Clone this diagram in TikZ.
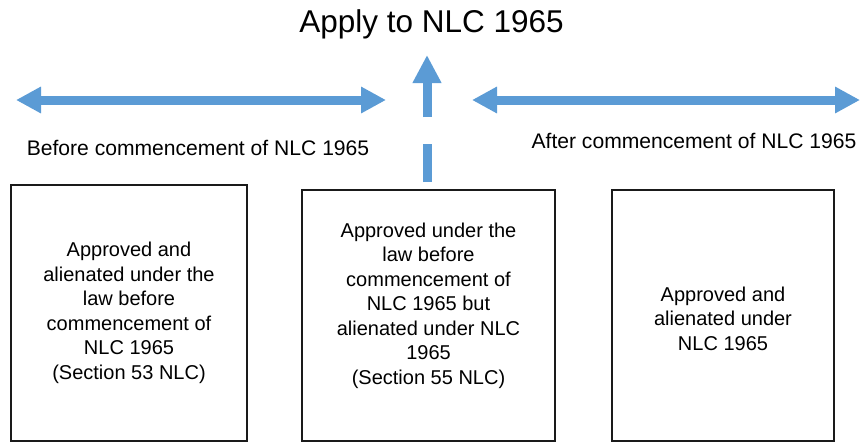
\documentclass[tikz,border=0pt]{standalone}
\usepackage{fontspec}
\setmainfont{Liberation Sans}
\usepackage{xcolor}
\definecolor{arrowblue}{HTML}{5B9BD5}
\definecolor{boxline}{HTML}{1A1A1A}
\usetikzlibrary{arrows.meta,positioning}

\begin{document}
\begin{tikzpicture}[x=1pt,y=-1pt,
    landbox/.style={draw=boxline, line width=2pt, inner sep=0pt},
    boxtext/.style={align=center, font=\fontsize{20}{24.5}\selectfont},
    period/.style={font=\fontsize{21.1}{24}\selectfont, anchor=base},
    timeline/.style={arrowblue, line width=9pt, {Triangle[length=25pt,width=25pt]}-{Triangle[length=25pt,width=25pt]}}]
  \useasboundingbox (0,0) rectangle (861,442);
  \node[font=\fontsize{31.5}{36}\selectfont, anchor=base] (title) at (431.5,32) {Apply to NLC 1965};
  % time lines
  \coordinate (pastL) at (16,100);
  \coordinate (pastR) at (386,100);
  \coordinate (futL) at (472,100);
  \coordinate (futR) at (860,100);
  \draw[timeline] (pastL) -- (pastR);
  \draw[timeline] (futL) -- (futR);
  \node[period] (before) at (198,155) {Before commencement of NLC 1965};
  \node[period] (after) at (694,148) {After commencement of NLC 1965};
  % boxes
  \node[landbox, minimum width=236pt, minimum height=256pt] (leftbox) at (129,313) {};
  \node[landbox, minimum width=253pt, minimum height=251pt] (midbox) at (428.5,315.5) {};
  \node[landbox, minimum width=222pt, minimum height=251pt] (rightbox) at (723,315.5) {};
  \node[boxtext] (lefttext) at (leftbox.center) {Approved and\\alienated under the\\law before\\commencement of\\NLC 1965\\(Section 53 NLC)};
  \node[boxtext] (midtext) at ([yshift=10pt]midbox.center) {Approved under the\\law before\\commencement of\\NLC 1965 but\\alienated under NLC\\1965\\(Section 55 NLC)};
  \node[boxtext] (righttext) at ([yshift=-3pt]rightbox.center) {Approved and\\alienated under\\NLC 1965};
  % rising arrow
  \coordinate (rise) at (427,182);
  \coordinate (risetip) at (427,55);
  \draw[arrowblue, line width=9pt, dash pattern=on 38pt off 27pt on 200pt, -{Triangle[length=28pt,width=27pt]}] (rise) -- (risetip);
\end{tikzpicture}
\end{document}
